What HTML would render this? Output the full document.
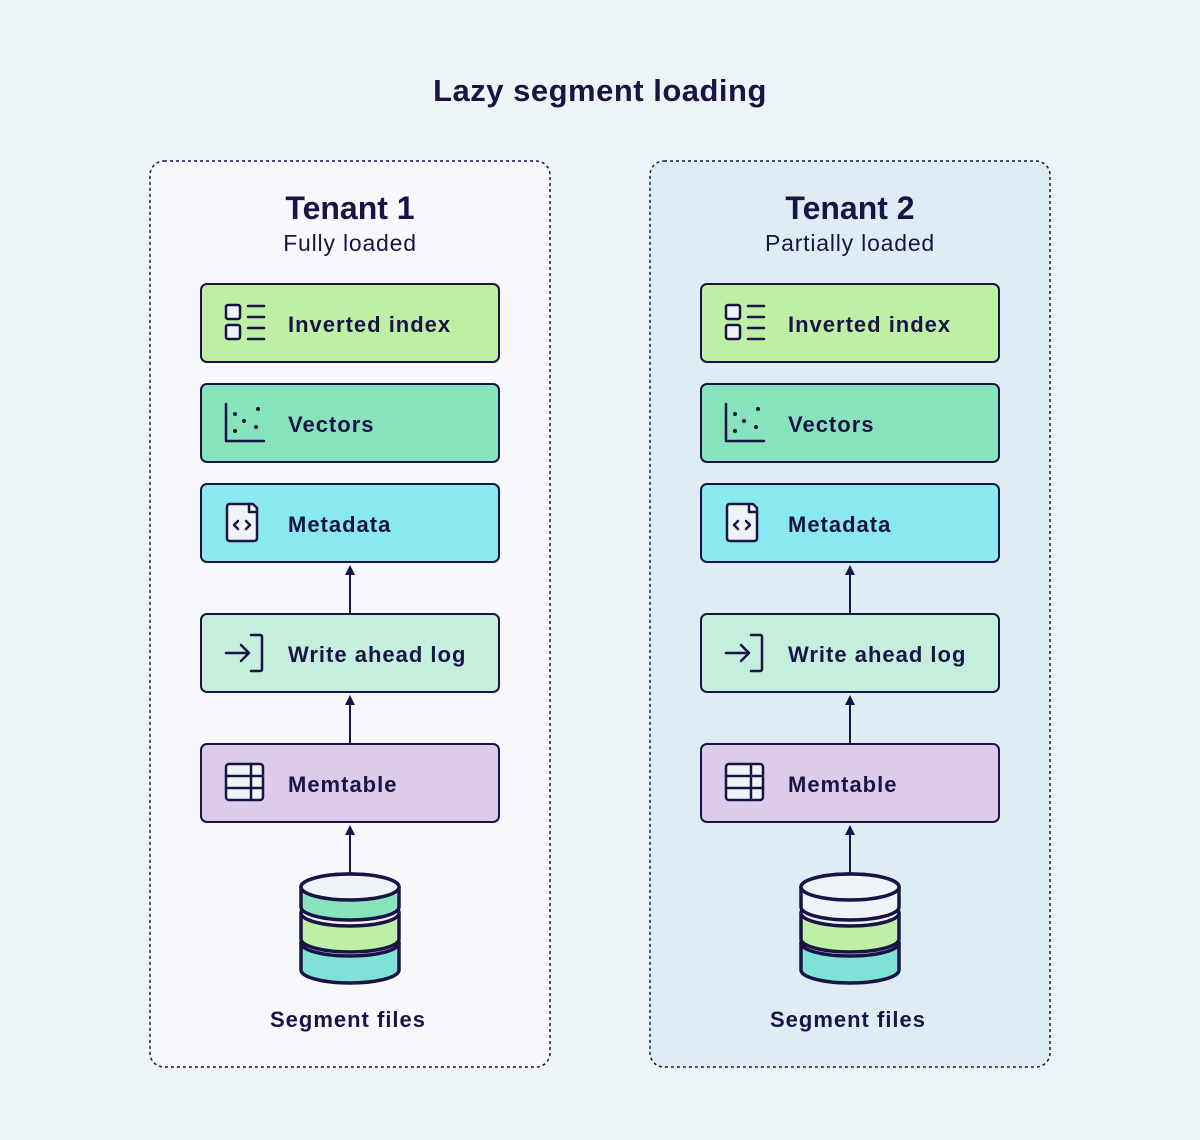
<!DOCTYPE html>
<html><head><meta charset="utf-8"><style>
html,body{margin:0;padding:0;background:#edf4f7;}
svg{display:block}
text{font-family:"Liberation Sans",sans-serif;fill:#1a1446}
.b{font-weight:bold}
</style></head><body>
<svg width="1200" height="1140" viewBox="0 0 1200 1140" xmlns="http://www.w3.org/2000/svg">
<defs>
<g id="panel">
  <g stroke="#1a1446" stroke-width="2">
    <rect x="201" y="284" width="298" height="78" rx="6" fill="#bdf0a4"/>
    <rect x="201" y="384" width="298" height="78" rx="6" fill="#86e3bb"/>
    <rect x="201" y="484" width="298" height="78" rx="6" fill="#8ae8ef"/>
    <rect x="201" y="614" width="298" height="78" rx="6" fill="#c3efdc"/>
    <rect x="201" y="744" width="298" height="78" rx="6" fill="#ddcbec"/>
  </g>
  <g font-size="22" font-weight="bold" letter-spacing="1">
    <text x="288" y="332">Inverted index</text>
    <text x="288" y="432">Vectors</text>
    <text x="288" y="532">Metadata</text>
    <text x="288" y="662">Write ahead log</text>
    <text x="288" y="792">Memtable</text>
  </g>
  <g stroke="#1a1446" stroke-width="2">
    <line x1="350" y1="613" x2="350" y2="572"/>
    <line x1="350" y1="743" x2="350" y2="702"/>
    <line x1="350" y1="873" x2="350" y2="832"/>
  </g>
  <g fill="#1a1446">
    <path d="M345 575 L350 565 L355 575Z"/>
    <path d="M345 705 L350 695 L355 705Z"/>
    <path d="M345 835 L350 825 L355 835Z"/>
  </g>
  <g stroke="#1a1446" stroke-width="2.5" fill="none" stroke-linecap="round" stroke-linejoin="round">
    <rect x="226" y="305" width="14" height="14" rx="2" fill="#eef4f7"/>
    <rect x="226" y="325" width="14" height="14" rx="2" fill="#eef4f7"/>
    <path d="M248 306H264M248 317H264M248 328H264M248 339H264"/>
    <path d="M226 404V441H264"/>
    <path d="M253 504H230Q227 504 227 507V538Q227 541 230 541H254Q257 541 257 538V508Z" fill="#eef4f7"/>
    <path d="M249 504V512H257"/>
    <path d="M238 521L234 525L238 529M246 521L250 525L246 529"/>
    <path d="M226 653H249M241 645L249 653L241 661"/>
    <path d="M251 635H260Q262 635 262 637V669Q262 671 260 671H251"/>
    <rect x="226" y="764" width="37" height="36" rx="3" fill="#eef4f7"/>
    <path d="M226 776H263M226 788H263M251 764V800"/>
  </g>
  <g fill="#1a1446">
    <circle cx="235" cy="414" r="2"/><circle cx="258" cy="409" r="2"/>
    <circle cx="244" cy="421" r="2"/><circle cx="256" cy="427" r="2"/>
    <circle cx="235" cy="431" r="2"/>
  </g>
  <text x="348" y="1027" font-size="22" text-anchor="middle" font-weight="bold" letter-spacing="1">Segment files</text>
</g>
</defs>

<text x="600" y="101" font-size="31" text-anchor="middle" font-weight="bold" letter-spacing="0.5">Lazy segment loading</text>

<rect x="150" y="161" width="400" height="906" rx="14" fill="#f6f8fb" stroke="#1a1446" stroke-width="1.5" stroke-dasharray="3,3"/>
<rect x="650" y="161" width="400" height="906" rx="14" fill="#deedf3" stroke="#1a1446" stroke-width="1.5" stroke-dasharray="3,3"/>

<text x="350" y="219" font-size="32" text-anchor="middle" font-weight="bold">Tenant 1</text>
<text x="350" y="251" font-size="23" text-anchor="middle" letter-spacing="0.8">Fully loaded</text>
<text x="850" y="219" font-size="32" text-anchor="middle" font-weight="bold">Tenant 2</text>
<text x="850" y="251" font-size="23" text-anchor="middle" letter-spacing="0.8">Partially loaded</text>

<use href="#panel"/>
<use href="#panel" transform="translate(500,0)"/>

<g stroke="#1a1446" stroke-width="3.5">
  <path d="M301 943V970A49 13 0 0 0 399 970V943A49 13 0 0 0 301 943Z" fill="#80e2d6"/>
  <ellipse cx="350" cy="943" rx="49" ry="13" fill="#eef4f7"/>
  <path d="M301 913V939A49 13 0 0 0 399 939V913A49 13 0 0 0 301 913Z" fill="#bdf0a4"/>
  <ellipse cx="350" cy="913" rx="49" ry="13" fill="#eef4f7"/>
  <path d="M301 887V907A49 13 0 0 0 399 907V887A49 13 0 0 0 301 887Z" fill="#86e3bb"/>
  <ellipse cx="350" cy="887" rx="49" ry="13" fill="#eef4f7"/>
</g>
<g stroke="#1a1446" stroke-width="3.5">
  <path d="M801 943V970A49 13 0 0 0 899 970V943A49 13 0 0 0 801 943Z" fill="#80e2d6"/>
  <ellipse cx="850" cy="943" rx="49" ry="13" fill="#eef4f7"/>
  <path d="M801 913V939A49 13 0 0 0 899 939V913A49 13 0 0 0 801 913Z" fill="#bdf0a4"/>
  <ellipse cx="850" cy="913" rx="49" ry="13" fill="#eef4f7"/>
  <path d="M801 887V907A49 13 0 0 0 899 907V887A49 13 0 0 0 801 887Z" fill="#eef4f7"/>
  <ellipse cx="850" cy="887" rx="49" ry="13" fill="#eef4f7"/>
</g>
</svg>
</body></html>
